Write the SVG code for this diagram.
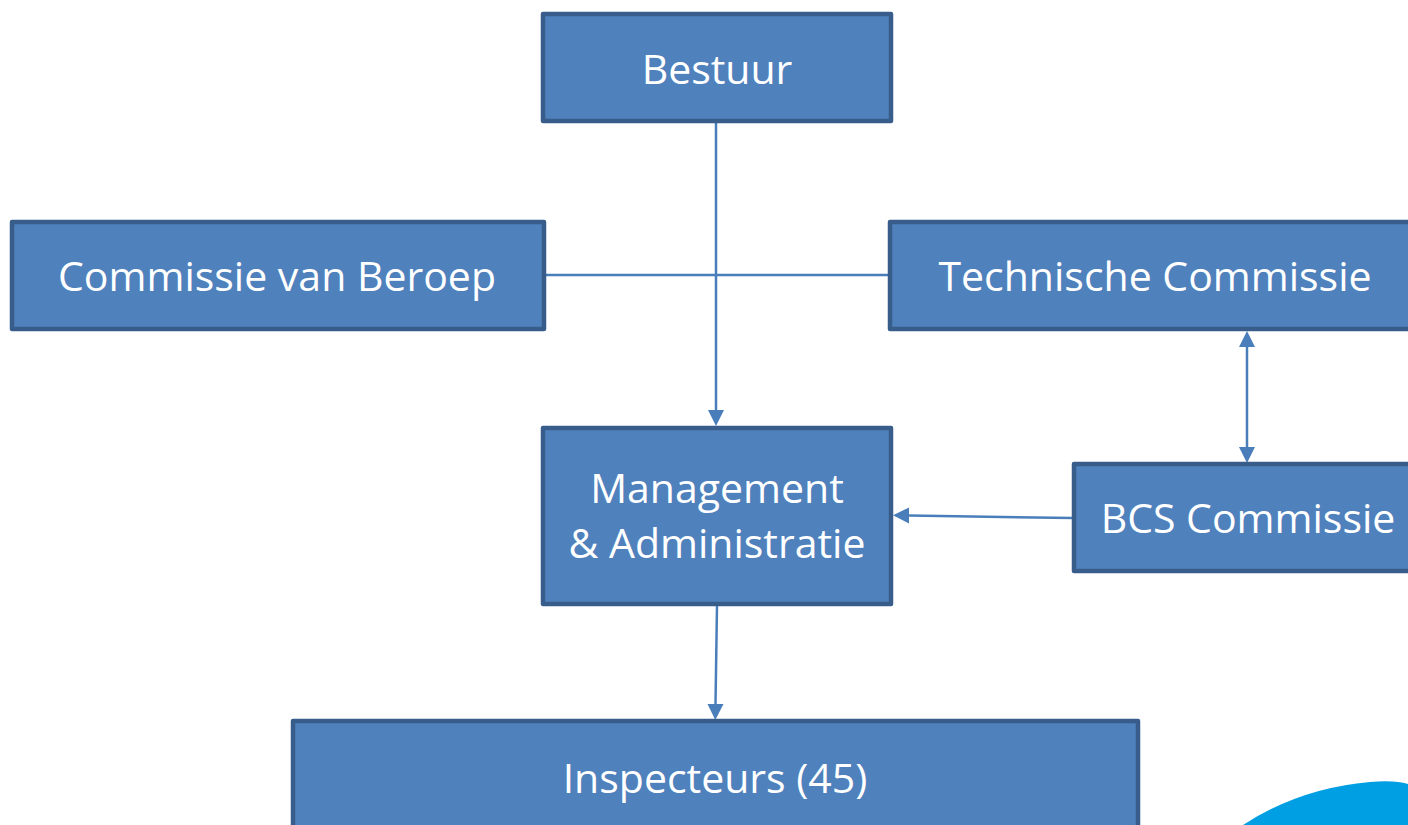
<svg xmlns="http://www.w3.org/2000/svg" width="1408" height="825" viewBox="0 0 1408 825">
<style>
.box{fill:#4F81BD;stroke:#385D8A;stroke-width:4.5;stroke-linejoin:round}
.lbl{fill:#FFFFFF;font-family:"Open Sans","Liberation Sans",sans-serif;font-size:41px;text-anchor:middle}
.con{stroke:#4A7EBB;stroke-width:2.5;fill:none}
.ah{fill:#4A7EBB}
</style>
<path d="M1243,825 Q1300,788 1370,782 Q1395,780 1408,784 L1408,825 Z" fill="#009FE3"/>
<g id="connectors">
<line class="con" x1="545" y1="275" x2="889" y2="275"/>
<path class="con" d="M716,122 L716,410"/>
<path class="ah" d="M708,410 L724,410 L716,426 Z"/>
<path class="con" d="M1073,518 L909,515.5"/>
<path class="ah" d="M909,507.5 L909,523.5 L893,515.3 Z"/>
<path class="con" d="M1247,347 L1247,447"/>
<path class="ah" d="M1239,347 L1255,347 L1247,331 Z"/>
<path class="ah" d="M1239,447 L1255,447 L1247,463 Z"/>
<path class="con" d="M717,605 L715.5,704"/>
<path class="ah" d="M707.5,704 L723.5,704 L715.3,720 Z"/>
</g>
<g id="bestuur">
<rect class="box" x="543" y="14" width="348" height="107"/>
<text class="lbl" x="717" y="84">Bestuur</text>
</g>
<g id="commissie-van-beroep">
<rect class="box" x="12" y="222" width="532" height="107"/>
<text class="lbl" x="277" y="291">Commissie van Beroep</text>
</g>
<g id="technische-commissie">
<rect class="box" x="890" y="222" width="530" height="107"/>
<text class="lbl" x="1155" y="291">Technische Commissie</text>
</g>
<g id="management">
<rect class="box" x="543" y="428" width="348" height="176"/>
<text class="lbl" x="717" y="503">Management</text>
<text class="lbl" x="717" y="558">&amp; Administratie</text>
</g>
<g id="bcs-commissie">
<rect class="box" x="1074" y="464" width="350" height="107"/>
<text class="lbl" x="1248" y="533">BCS Commissie</text>
</g>
<g id="inspecteurs">
<rect class="box" x="293" y="721" width="845" height="120"/>
<text class="lbl" x="715" y="793">Inspecteurs (45)</text>
</g>
</svg>
